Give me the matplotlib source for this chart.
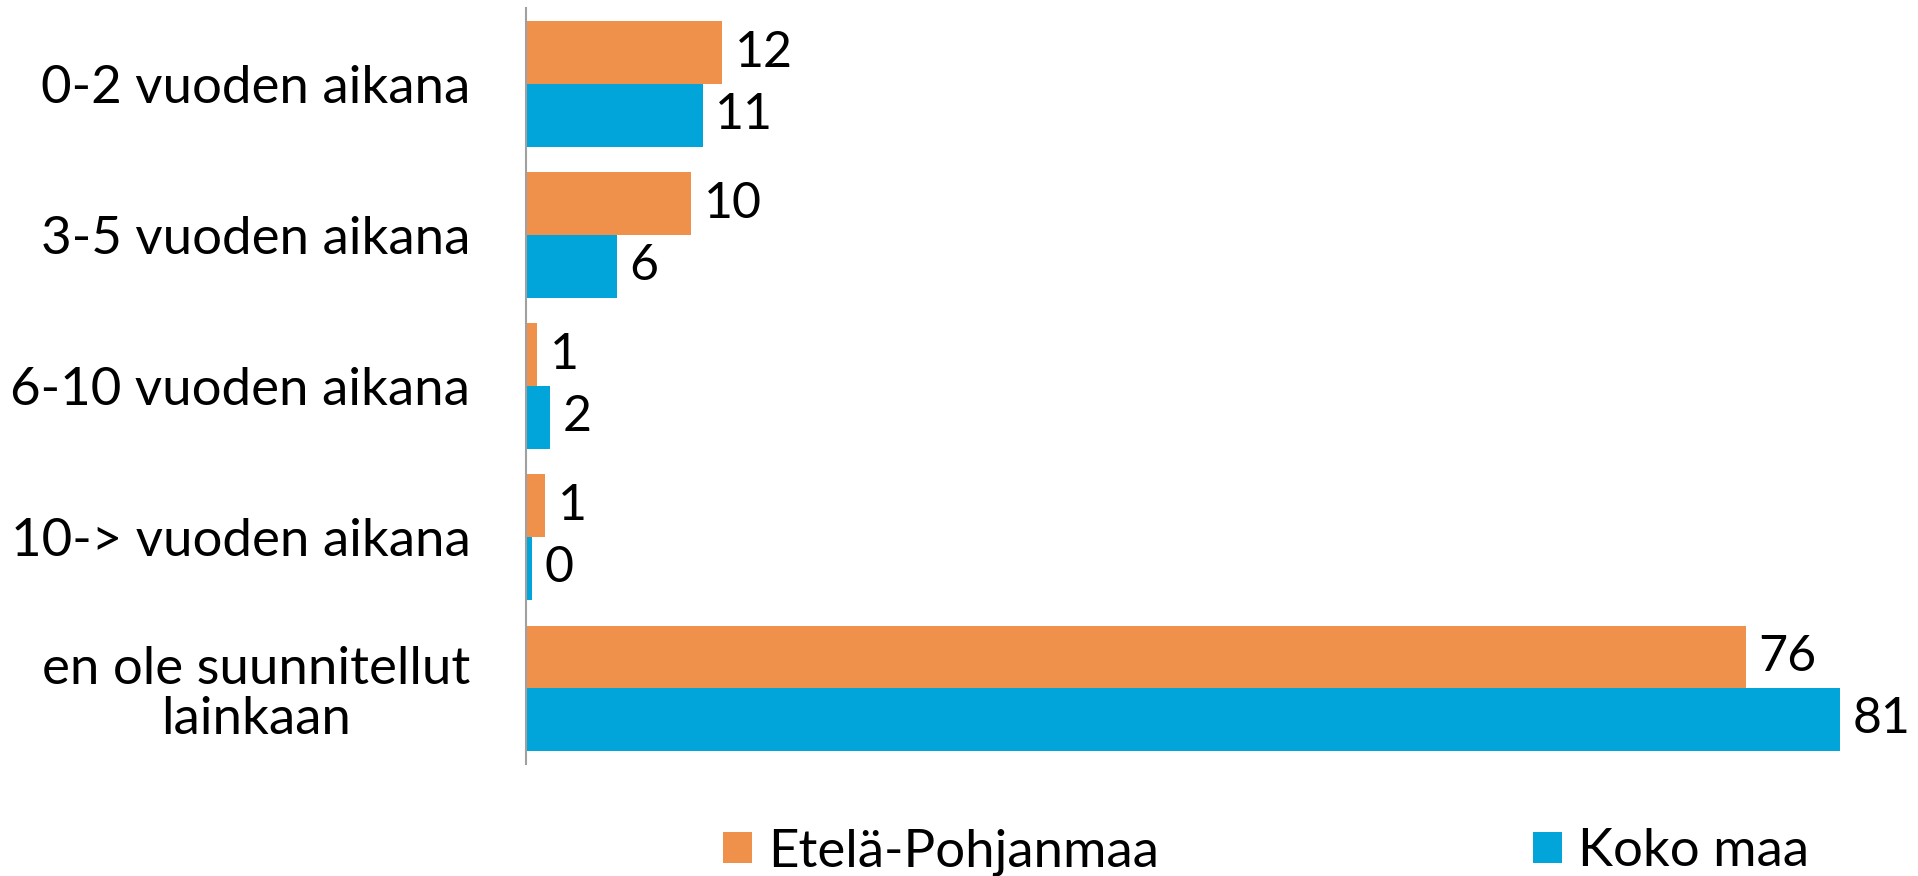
import numpy as np
import matplotlib
matplotlib.use("Agg")
import matplotlib.pyplot as plt

categories = ["0-2 vuoden aikana", "3-5 vuoden aikana", "6-10 vuoden aikana",
              "10-> vuoden aikana", "en ole suunnitellut\nlainkaan"]
series_names = ["Etelä-Pohjanmaa", "Koko maa"]
etela_vals = [12.1, 10.2, 0.7, 1.2, 75.2]
koko_vals = [10.9, 5.6, 1.5, 0.4, 81.0]
etela_text = ["12", "10", "1", "1", "76"]
koko_text = ["11", "6", "2", "0", "81"]

ORANGE = "#F0914B"
BLUE = "#02A5DA"
FS = 38

plt.rcParams["font.family"] = ["Lato", "DejaVu Sans"]

fig = plt.figure(figsize=(19.18, 8.76), dpi=100)
ax = fig.add_axes([0.2742, 0.1284, 0.7258, 0.8619])

y = np.arange(len(categories))
h = 0.414
b1 = ax.barh(y - h / 2, etela_vals, height=h, color=ORANGE, label=series_names[0])
b2 = ax.barh(y + h / 2, koko_vals, height=h, color=BLUE, label=series_names[1])
# value labels, a bit tighter so the last one stays inside the figure
ax.bar_label(b1, labels=etela_text, padding=9, fontsize=FS - 2)
ax.bar_label(b2, labels=koko_text, padding=9, fontsize=FS - 2)

ax.set_xlim(0, 85.8)
ax.set_ylim(len(categories) - 0.5, -0.5)
ax.set_xticks([])
ax.set_yticks(y)
ax.set_yticklabels(categories, fontsize=FS, multialignment="center", linespacing=1.1)
ax.tick_params(axis="y", length=0, pad=40)
for s in ["top", "right", "bottom"]:
    ax.spines[s].set_visible(False)
ax.spines["left"].set_color("#A0A0A0")
ax.spines["left"].set_linewidth(1.5)

fig.legend(loc="center left", bbox_to_anchor=(723 / 1918, 0.0274), ncol=2,
           frameon=False, fontsize=FS, handlelength=0.55, handleheight=0.55,
           handletextpad=0.3, columnspacing=7.1, borderpad=0, borderaxespad=0)

fig.savefig("out.png", dpi=100)
